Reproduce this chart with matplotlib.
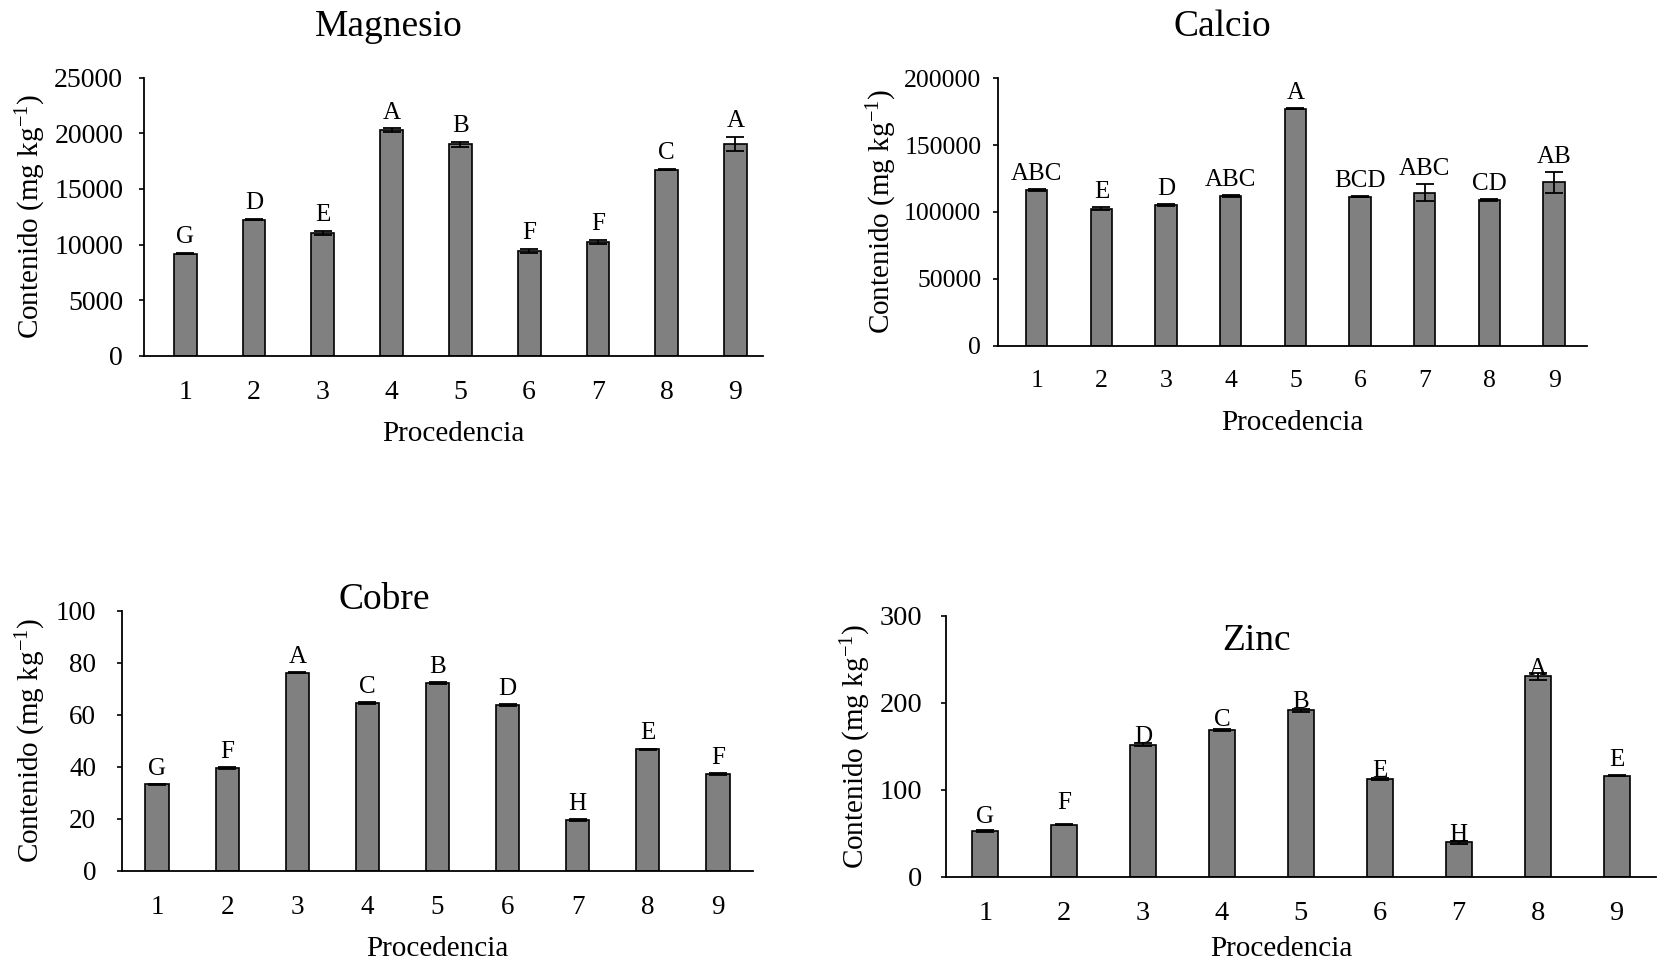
import matplotlib
matplotlib.use("Agg")
import matplotlib.pyplot as plt

plt.rcParams['font.family'] = ['Liberation Serif', 'DejaVu Serif']
plt.rcParams['mathtext.fontset'] = 'custom'
plt.rcParams['mathtext.rm'] = 'Liberation Serif'
plt.rcParams['mathtext.it'] = 'Liberation Serif:italic'

procedencia = [1, 2, 3, 4, 5, 6, 7, 8, 9]

mg_vals = [9170, 12230, 11030, 20260, 19000, 9410, 10220, 16730, 19070]
mg_err = [60, 60, 170, 180, 220, 210, 180, 50, 630]
mg_letters = ["G", "D", "E", "A", "B", "F", "F", "C", "A"]

ca_vals = [116200, 102500, 105200, 111700, 177300, 111400, 114500, 109200, 122000]
ca_err = [600, 1100, 600, 600, 700, 600, 6000, 700, 8000]
ca_letters = ["ABC", "E", "D", "ABC", "A", "BCD", "ABC", "CD", "AB"]

cu_vals = [33.2, 39.4, 76.2, 64.6, 72.1, 63.8, 19.5, 46.7, 37.2]
cu_err = [0.3, 0.3, 0.3, 0.3, 0.4, 0.3, 0.3, 0.3, 0.3]
cu_letters = ["G", "F", "A", "C", "B", "D", "H", "E", "F"]

zn_vals = [52.8, 60.1, 151.9, 169.1, 191.3, 112.1, 39.8, 230.4, 116.3]
zn_err = [0.8, 0.6, 1.7, 1.0, 2.0, 1.2, 1.7, 4.0, 0.8]
zn_letters = ["G", "F", "D", "C", "B", "E", "H", "A", "E"]

W, H = 1657, 964
fig = plt.figure(figsize=(W / 100, H / 100), dpi=100)


def px_axes(l, t, r, b):
    return fig.add_axes([l / W, 1 - b / H, (r - l) / W, (b - t) / H])


def draw_panel(ax, vals, errs, letters, title, ymax, ystep, xlim,
               tick_fs, ypad, ylab_x, xlab_pos, title_pos, letter_off):
    l, r = ax.get_position().x0 * W, ax.get_position().x1 * W
    ax.bar(procedencia, vals, width=0.33, color="#808080",
           edgecolor="black", linewidth=1.2, zorder=2)
    ax.errorbar(procedencia, vals, yerr=errs, fmt="none", ecolor="black",
                elinewidth=1.3, capsize=6.5, capthick=1.3, zorder=3)
    for i, (x, v, e, s) in enumerate(zip(procedencia, vals, errs, letters)):
        off = letter_off[i] if isinstance(letter_off, list) else letter_off
        top = v if isinstance(letter_off, list) else v + e
        ax.annotate(s, (x, top), xytext=(0, off), textcoords="offset points",
                    ha="center", va="baseline", fontsize=18, zorder=4)
    ax.set_xlim(*xlim)
    ax.set_ylim(0, ymax)
    ax.set_xticks(procedencia)
    ax.set_yticks(range(0, ymax + 1, ystep))
    ax.tick_params(axis="x", length=0, pad=17.5, labelsize=tick_fs)
    ax.tick_params(axis="y", length=3.5, width=1.2, direction="out",
                   pad=ypad, labelsize=tick_fs)
    for side in ("top", "right"):
        ax.spines[side].set_visible(False)
    for side in ("left", "bottom"):
        ax.spines[side].set_linewidth(1.3)
    ax.set_ylabel(r"Contenido (mg kg$^{-1}$)", fontsize=21)
    ax.yaxis.label.set_va("center")
    ax.yaxis.set_label_coords((ylab_x - l) / (r - l), 0.5)
    ax.set_xlabel("Procedencia", fontsize=21)
    ax.xaxis.label.set_va("center")
    ax.xaxis.set_label_coords(*xlab_pos)
    ax.text(title_pos[0], title_pos[1], title, transform=ax.transAxes,
            ha="center", va="center", fontsize=27)


ax1 = px_axes(144, 77.7, 763, 355.7)
draw_panel(ax1, mg_vals, mg_err, mg_letters, "Magnesio", 25000, 5000,
           (0.4, 9.4), 20, 11.5, 31, (0.5, -0.283), (0.396, 1.185), 7)

ax2 = px_axes(998, 78.2, 1586.5, 345.6)
draw_panel(ax2, ca_vals, ca_err, ca_letters, "Calcio", 200000, 50000,
           (0.4, 9.5), 18.5, 8.5, 882, (0.5, -0.29), (0.382, 1.194), 6.5)

ax3 = px_axes(122, 610.7, 753, 870.7)
draw_panel(ax3, cu_vals, cu_err, cu_letters, "Cobre", 100, 20,
           (0.5, 9.5), 19.5, 15, 30.5, (0.5, -0.3), (0.415, 1.044), 6.5)

ax4 = px_axes(945.7, 615.7, 1656, 877)
draw_panel(ax4, zn_vals, zn_err, zn_letters, "Zinc", 300, 100,
           (0.5, 9.5), 20.5, 13.5, 856, (0.473, -0.276), (0.438, 0.905),
           [6, 11, 1, 3, 2, 2, 1, 1, 7])

fig.savefig("out.png", dpi=100)
